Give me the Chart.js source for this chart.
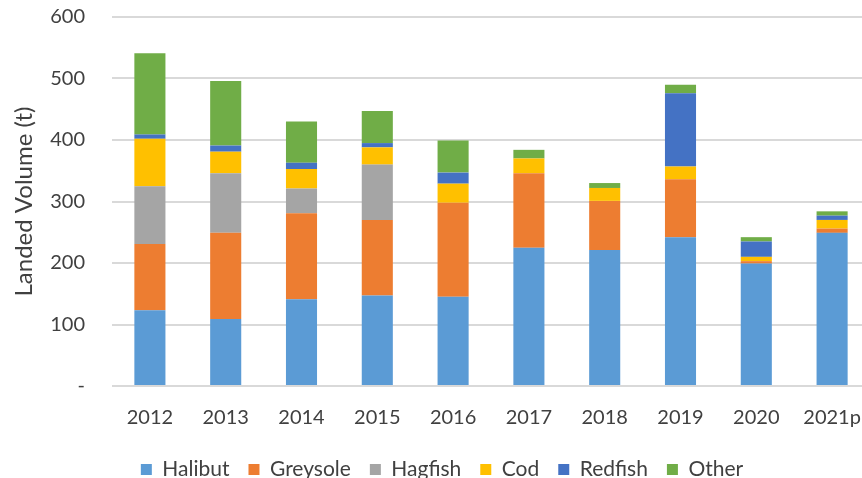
<!DOCTYPE html>
<html>
<head>
<meta charset="utf-8">
<script src="https://cdn.jsdelivr.net/npm/chart.js@4.4.1/dist/chart.umd.min.js"></script>
<style>
  html, body { margin: 0; padding: 0; background: #fff; overflow: hidden; }
  #wrap { width: 884px; height: 478px; }
</style>
</head>
<body>
<div id="wrap"><canvas id="chart" width="884" height="478"></canvas></div>
<script>
// ─── DATA ─────────────────────────────────────────────────────────────────────
const categories = ['2012', '2013', '2014', '2015', '2016', '2017', '2018', '2019', '2020', '2021p'];

const halibut  = [123, 109, 141, 147, 145, 225, 221, 242, 199, 249];
const greysole = [108, 140, 140, 123, 153, 121, 80, 94, 4, 7];
const hagfish  = [94, 97, 40, 90, 0, 0, 0, 0, 0, 0];
const cod      = [77, 35, 32, 28, 31, 24, 21, 21, 7, 14];
const redfish  = [7, 10, 10, 7, 18, 0, 0, 119, 25, 7];
const other    = [132, 105, 67, 52, 52, 14, 8, 14, 7, 7];

const yTicks = [0, 100, 200, 300, 400, 500, 600];

// ─── CHART ────────────────────────────────────────────────────────────────────
const textColor = '#404040';
const fontFamily = 'Lato, "Open Sans", sans-serif';

function series(label, data, color) {
  return {
    label,
    data,
    backgroundColor: color,
    borderWidth: 0,
    categoryPercentage: 1,
    barPercentage: 0.41
  };
}

const ctx = document.getElementById('chart').getContext('2d');
new Chart(ctx, {
  type: 'bar',
  data: {
    labels: categories,
    datasets: [
      series('Halibut', halibut, '#5B9BD5'),
      series('Greysole', greysole, '#ED7D31'),
      series('Hagfish', hagfish, '#A5A5A5'),
      series('Cod', cod, '#FFC000'),
      series('Redfish', redfish, '#4472C4'),
      series('Other', other, '#70AD47')
    ]
  },
  options: {
    responsive: false,
    animation: false,
    // canvas is wider than the page; the right part is cropped like the source
    layout: { padding: { top: 17, right: 14, bottom: 0, left: 14 } },
    plugins: {
      tooltip: { enabled: false },
      legend: {
        position: 'bottom',
        maxHeight: 38,
        labels: {
          boxWidth: 11,
          boxHeight: 11,
          padding: 19,
          color: textColor,
          font: { family: fontFamily, size: 21 }
        }
      }
    },
    scales: {
      x: {
        stacked: true,
        grid: { display: false },
        border: { display: false },
        ticks: {
          padding: 12,
          color: textColor,
          font: { family: fontFamily, size: 20 },
          maxRotation: 0
        },
        afterFit: (scale) => { scale.height = 54; }
      },
      y: {
        stacked: true,
        min: yTicks[0],
        max: yTicks[yTicks.length - 1],
        afterBuildTicks: (scale) => { scale.ticks = yTicks.map(v => ({ value: v })); },
        grid: { color: '#d9d9d9', lineWidth: 2, drawTicks: false },
        border: { display: false },
        ticks: {
          padding: 27,
          color: textColor,
          font: { family: fontFamily, size: 20 },
          callback: (v) => (v === 0 ? '-' : v)
        },
        title: {
          display: true,
          text: 'Landed Volume (t)',
          color: textColor,
          font: { family: fontFamily, size: 24 },
          padding: { top: -4, bottom: 0 }
        },
        afterFit: (scale) => {
          scale.width = 98;
          // tick padding is otherwise added above the top label
          scale.paddingTop = 0;
          scale.paddingBottom = 0;
        }
      }
    }
  }
});
</script>
</body>
</html>
